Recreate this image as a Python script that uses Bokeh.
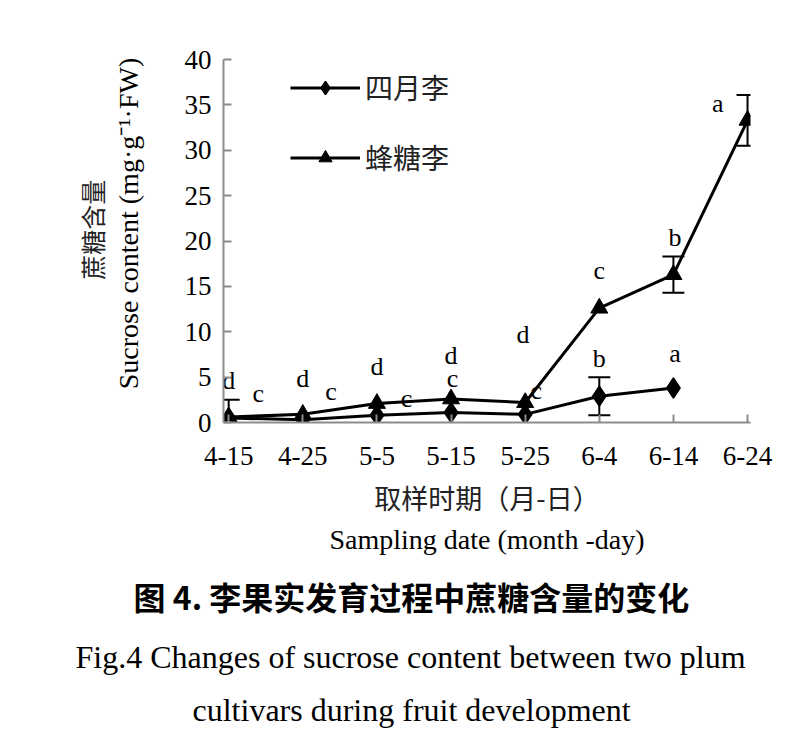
from bokeh.plotting import figure
from bokeh.models import (Whisker, ColumnDataSource, Range1d, FixedTicker, Legend,
                          LegendItem, LinearAxis, Title)
from bokeh.core.properties import value
from bokeh.embed import file_html
from bokeh.resources import INLINE

dates = ["4-15", "4-25", "5-5", "5-15", "5-25", "6-4", "6-14", "6-24"]
siyue = [0.5, 0.3, 0.8, 1.1, 0.9, 2.9, 3.8]
siyue_err = [0.0, 0.0, 0.0, 0.0, 0.0, 2.1, 0.0]
fengtang = [0.6, 0.9, 2.1, 2.6, 2.2, 12.6, 16.3, 33.3]
fengtang_err = [1.9, 0.0, 0.0, 0.0, 0.0, 0.0, 2.0, 2.8]

letters = ["d", "c", "d", "c", "d", "c", "d", "c", "d", "c", "c", "b", "b", "a", "a"]
letter_x = [0, 0.4, 1, 1.38, 2, 2.4, 3, 3.02, 3.97, 4.15, 5, 5, 6.02, 6.02, 6.6]
letter_y = [4.6, 3.2, 4.8, 3.4, 6.2, 2.6, 7.4, 4.8, 9.7, 3.5, 16.7, 7.0, 20.4, 7.6, 35.1]

SERIF = "Liberation Serif"
CJK = "Noto Sans CJK SC"
NB = "\u00a0"

W, H = 808, 738
p = figure(width=W, height=H, output_backend="svg", toolbar_location=None,
           x_range=Range1d(-0.07, 7.04), y_range=Range1d(0, 40),
           min_border_left=223, min_border_right=W - 750,
           min_border_top=59, min_border_bottom=H - 422)
p.outline_line_color = None
p.grid.visible = False
p.background_fill_color = "white"

xi = list(range(len(dates)))

p.axis.axis_line_color = "#8c8c8c"
p.axis.axis_line_width = 2
p.axis.major_tick_line_color = "#8c8c8c"
p.axis.major_tick_line_width = 2
p.axis.minor_tick_line_color = None
p.axis.major_tick_in = 8
p.axis.major_tick_out = 0
p.axis.major_label_text_font = SERIF
p.axis.major_label_text_font_size = "27px"
p.axis.major_label_text_color = "black"
p.axis.axis_label_text_font_style = "normal"
p.axis.axis_label_text_color = "black"

p.xaxis.ticker = FixedTicker(ticks=xi)
p.xaxis.major_label_overrides = {i: d for i, d in enumerate(dates)}
p.xaxis.major_label_standoff = 24
p.xaxis.axis_label = "取样时期（月-日）"
p.xaxis.axis_label_text_font = CJK
p.xaxis.axis_label_text_font_size = "27px"
p.xaxis.axis_label_text_color = "#222222"
p.xaxis.axis_label_standoff = 10

p.yaxis.ticker = FixedTicker(ticks=[0, 5, 10, 15, 20, 25, 30, 35, 40])
p.yaxis.major_label_standoff = 12
p.yaxis.axis_label = NB * 5 + "Sucrose content (mg·g⁻¹·FW)"
p.yaxis.axis_label_text_font = SERIF
p.yaxis.axis_label_text_font_size = "28px"
p.yaxis.axis_label_standoff = 38


def label_axis(text, font, size, standoff, color="black"):
    return LinearAxis(ticker=FixedTicker(ticks=[]), axis_line_color=None,
                      major_tick_line_color=None, minor_tick_line_color=None,
                      axis_label=text, axis_label_text_font=font,
                      axis_label_text_font_size=size, axis_label_text_font_style="normal",
                      axis_label_text_color=color, axis_label_standoff=standoff,
                      major_label_standoff=0, major_tick_in=0, major_tick_out=0)

p.add_layout(label_axis(NB * 4 + "蔗糖含量", CJK, "25px", 0, "#222222"), "left")
p.add_layout(label_axis("Sampling date (month -day)", SERIF, "28px", 4), "below")

for txt, font, size, bold, off, so in [
        ("图 4. 李果实发育过程中蔗糖含量的变化", CJK, "32px", True, -90, 26),
        ("Fig.4 Changes of sucrose content between two plum", SERIF, "32px", False, -148, 11),
        ("cultivars during fruit development", SERIF, "32px", False, -31, 19)]:
    t = Title(text=txt, text_font=font, text_font_size=size,
              text_font_style="bold" if bold else "normal", text_color="black",
              align="left", offset=off, standoff=so)
    p.add_layout(t, "below")


def add_err(xs, ys, es):
    xe, lo, hi = [], [], []
    for x, y, e in zip(xs, ys, es):
        if e > 0:
            xe.append(x); lo.append(y - e); hi.append(y + e)
    src = ColumnDataSource(dict(x=xe, lo=lo, hi=hi))
    w = Whisker(base="x", lower="lo", upper="hi", source=src,
                line_color="black", line_width=2)
    w.upper_head.size = 22
    w.lower_head.size = 22
    w.upper_head.line_width = 2
    w.lower_head.line_width = 2
    p.add_layout(w)

add_err(xi[:len(siyue)], siyue, siyue_err)
add_err(xi, fengtang, fengtang_err)

l1 = p.line(xi[:len(siyue)], siyue, line_color="black", line_width=3)
m1 = p.scatter(xi[:len(siyue)], siyue, marker="diamond", size=20,
               fill_color="black", line_color="black", line_width=1.5)
l2 = p.line(xi, fengtang, line_color="black", line_width=3)
m2 = p.scatter(xi, fengtang, marker="triangle", size=17,
               fill_color="black", line_color="black")

p.text(letter_x, letter_y, text=letters, text_font=value(SERIF),
       text_font_size="26px", text_align="center", text_baseline="middle",
       text_color="black")

leg = Legend(items=[LegendItem(label="四月李", renderers=[l1, m1]),
                    LegendItem(label="蜂糖李", renderers=[l2, m2])],
             location=(67, 245), background_fill_alpha=0, border_line_color=None,
             label_text_font=CJK, label_text_font_size="28px",
             label_text_color="#222222", glyph_width=70, glyph_height=33,
             spacing=30, label_standoff=5, padding=10, margin=0)
p.add_layout(leg, "center")

open("out.html", "w").write(file_html(p, INLINE))
